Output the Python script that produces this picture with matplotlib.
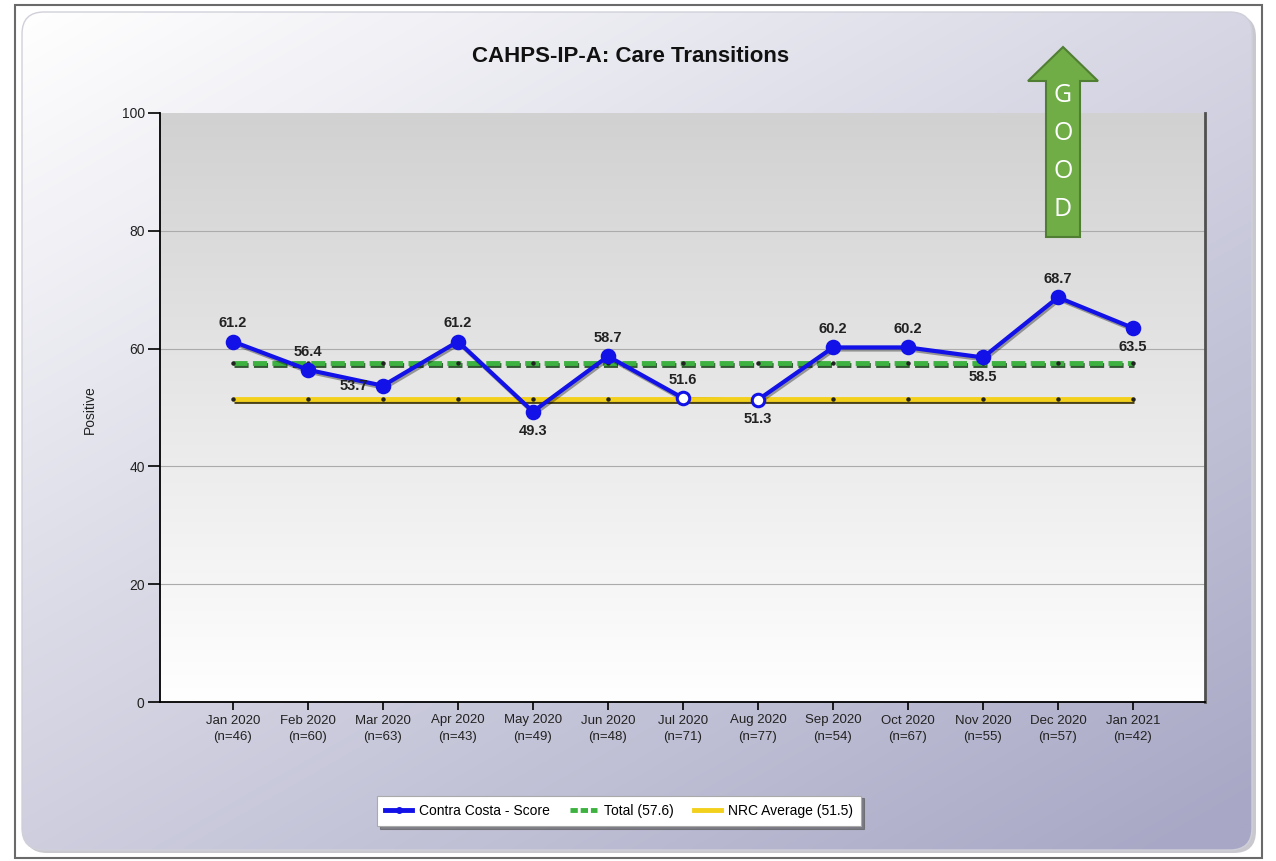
import numpy as np
import matplotlib
matplotlib.use("Agg")
import matplotlib.pyplot as plt
import matplotlib.patheffects as pe
from matplotlib.patches import FancyBboxPatch, Rectangle, Polygon
from matplotlib.lines import Line2D

plt.rcParams['font.family'] = ['Liberation Sans', 'DejaVu Sans']

# data
months = ['Jan 2020', 'Feb 2020', 'Mar 2020', 'Apr 2020', 'May 2020', 'Jun 2020',
          'Jul 2020', 'Aug 2020', 'Sep 2020', 'Oct 2020', 'Nov 2020', 'Dec 2020', 'Jan 2021']
counts = [46, 60, 63, 43, 49, 48, 71, 77, 54, 67, 55, 57, 42]
scores = [61.2, 56.4, 53.7, 61.2, 49.3, 58.7, 51.6, 51.3, 60.2, 60.2, 58.5, 68.7, 63.5]
hollow = [False, False, False, False, False, False, True, True, False, False, False, False, False]
label_pos = ['above', 'above', 'left', 'above', 'below', 'above', 'above',
             'below', 'above', 'above', 'below', 'above', 'below']
total_avg = 57.6
nrc_avg = 51.5

W, H = 1276, 861
fig = plt.figure(figsize=(W / 100, H / 100), dpi=100)

# background panel (pixel coords)
bg = fig.add_axes([0, 0, 1, 1])
bg.set_xlim(0, W)
bg.set_ylim(H, 0)
bg.axis('off')
bg.add_patch(Rectangle((15, 5), 1247, 853, fill=False, ec='#6a6a6a', lw=1.5, zorder=3))
shadow = FancyBboxPatch((25, 15), 1231, 838, boxstyle='round,pad=0,rounding_size=22',
                        fc='#9c9ca6', ec='none', alpha=0.55, zorder=0.2)
bg.add_patch(shadow)
panel = FancyBboxPatch((22, 12), 1230, 838, boxstyle='round,pad=0,rounding_size=22',
                       fc='none', ec='#d0d0da', lw=1, zorder=2)
bg.add_patch(panel)
yy, xx = np.mgrid[0:1:200j, 0:1:300j]
t = np.clip(xx * 0.47 + yy * 0.56, 0, 1)
c0 = np.array([1.0, 1.0, 1.0])
c1 = np.array([0xa8, 0xa8, 0xc6]) / 255
img = c0 + (c1 - c0) * t[..., None]
im = bg.imshow(img, extent=(22, 1252, 850, 12), aspect='auto', interpolation='bilinear', zorder=1)
im.set_clip_path(panel)

# main axes
ax = fig.add_axes([160 / W, (H - 702) / H, 1045 / W, 589 / H])
xlo, xhi = -0.973, 12.96
ax.set_xlim(xlo, xhi)
ax.set_ylim(0, 100)
ax.patch.set_visible(False)
grad = np.linspace(0.82, 1.0, 256)
gimg = np.repeat(grad[:, None, None], 3, axis=2)
ax.imshow(gimg, extent=(xlo, xhi, 0, 100), aspect='auto', zorder=0, interpolation='bilinear')

ax.set_yticks([0, 20, 40, 60, 80, 100])
for gy in [20, 40, 60, 80]:
    ax.axhline(gy, color='#ababab', lw=0.8, zorder=0.5)
ax.spines['top'].set_visible(False)
ax.spines['left'].set_linewidth(1.3)
ax.spines['bottom'].set_linewidth(1.3)
ax.spines['right'].set_color('#505050')
ax.spines['right'].set_linewidth(2)

x = np.arange(len(months))
ax.set_xticks(x)
ax.set_xticklabels([f'{m}\n(n={n})' for m, n in zip(months, counts)], fontsize=9.5,
                   color='#222222', linespacing=1.5)
ax.tick_params(axis='x', length=6, width=1.2, pad=3)
ax.tick_params(axis='y', length=9, width=1.2, labelsize=10, labelcolor='#222222', pad=2)

# reference lines
shadow_fx = lambda col: [pe.SimpleLineShadow(offset=(0.8, -1.6), shadow_color=col, alpha=0.9), pe.Normal()]
ax.plot(x, [nrc_avg] * len(x), color='#f2d01c', lw=3.5, solid_capstyle='butt',
        path_effects=shadow_fx('#3a3000'), zorder=3)
ax.plot(x, [nrc_avg] * len(x), 'o', color='#222222', ms=2.2, zorder=3.1)
ax.plot(x, [total_avg] * len(x), color='#3db240', lw=3.5, dashes=(2.9, 1.1),
        path_effects=shadow_fx('#1e4a1e'), zorder=3)
ax.plot(x, [total_avg] * len(x), 'o', color='#222222', ms=2.2, zorder=3.1)

# score line
blue = '#1212e8'
sc = np.array(scores)
line_fx = [pe.SimpleLineShadow(offset=(1, -1.5), shadow_color='k', alpha=0.35), pe.Normal()]
ax.plot(x[:7], sc[:7], color=blue, lw=3, path_effects=line_fx, zorder=4)
ax.plot(x[7:], sc[7:], color=blue, lw=3, path_effects=line_fx, zorder=4)
ax.plot(x[6:8], sc[6:8], color='#1a1a1a', lw=1.6, zorder=2.9)
for xi, yi, h in zip(x, sc, hollow):
    ax.plot(xi, yi, 'o', ms=9, mfc='white' if h else blue, mec=blue, mew=2.2, zorder=5)

offsets = {'above': (0, 13), 'below': (0, -14), 'left': (-21, 0)}
for xi, yi, p in zip(x, sc, label_pos):
    ax.annotate(f'{yi:.1f}', (xi, yi), xytext=offsets[p], textcoords='offset points',
                ha='center', va='center', fontsize=10.5, fontweight='bold', color='#222222', zorder=6)

# titles
fig.text(631 / W, 1 - 56 / H, 'CAHPS-IP-A: Care Transitions', ha='center', va='center',
         fontsize=16, fontweight='bold', color='#111111')
fig.text(90 / W, 1 - 410 / H, 'Positive', rotation=90, ha='center', va='center',
         fontsize=10, color='#222222')

# legend
handles = [
    Line2D([], [], color=blue, lw=3.5, marker='o', ms=4),
    Line2D([], [], color='#3db240', lw=3.5, dashes=(1.5, 0.6)),
    Line2D([], [], color='#f2d01c', lw=3.5),
]
leg = fig.legend(handles, ['Contra Costa - Score', 'Total (57.6)', 'NRC Average (51.5)'],
                 loc='center', bbox_to_anchor=(619 / W, 1 - 811 / H), ncol=3, fontsize=10,
                 frameon=True, fancybox=False, shadow={'color': '#555555', 'alpha': 0.6},
                 edgecolor='#aaaaaa', handlelength=1.9, columnspacing=1.5, handletextpad=0.5,
                 borderpad=0.6)
leg.get_frame().set_linewidth(0.8)

# GOOD arrow overlay
ov = fig.add_axes([0, 0, 1, 1])
ov.set_xlim(0, W)
ov.set_ylim(H, 0)
ov.axis('off')
ov.patch.set_visible(False)
arrow = Polygon([(1063, 47), (1098, 81), (1080, 81), (1080, 237), (1046, 237), (1046, 81), (1028, 81)],
                closed=True, fc='#70ad47', ec='#507e32', lw=1.5)
ov.add_patch(arrow)
for ch, yc in zip('GOOD', [95, 134, 172, 210]):
    ov.text(1063, yc, ch, ha='center', va='center', color='white', fontsize=18,
            family=['Open Sans', 'DejaVu Sans'])

fig.savefig('out.png', dpi=100)
